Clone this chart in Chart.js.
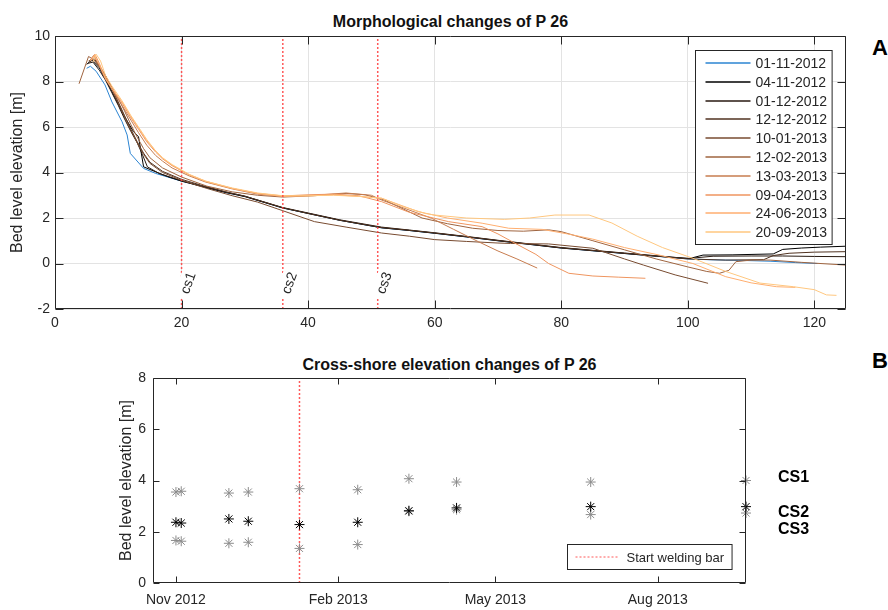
<!DOCTYPE html>
<html>
<head>
<meta charset="utf-8">
<script src="https://cdn.jsdelivr.net/npm/chart.js@4.4.1/dist/chart.umd.min.js"></script>
<style>
  body { margin: 0; background: #fff; }
  #wrap { position: relative; width: 888px; height: 610px; overflow: hidden; font-family: 'Liberation Sans', Arial, sans-serif; }
  canvas { position: absolute; left: 0; }
  .title { position: absolute; font-weight: bold; font-size: 16px; line-height: 16px; color: #111; text-align: center; white-space: nowrap; }
  .panel { position: absolute; left: 872px; font-weight: bold; font-size: 22px; line-height: 22px; color: #000; }
  .cs { position: absolute; left: 778px; font-family: 'Liberation Sans Narrow', 'Liberation Sans', sans-serif; font-weight: bold; font-size: 16px; line-height: 16px; color: #000; }
</style>
</head>
<body>
<div id="wrap">
  <div class="title" style="left:55px;width:791px;top:14px">Morphological changes of P 26</div>
  <div class="panel" style="top:37px">A</div>
  <canvas id="profile" width="888" height="330" style="top:0"></canvas>

  <div class="title" style="left:153px;width:593px;top:357px">Cross-shore elevation changes of P 26</div>
  <div class="panel" style="top:350px">B</div>
  <canvas id="points" width="888" height="280" style="top:330px"></canvas>
  <div class="cs" style="top:469px">CS1</div>
  <div class="cs" style="top:504px">CS2</div>
  <div class="cs" style="top:521px">CS3</div>
</div>
<script>
// survey dates (legend labels of panel A, x positions of panel B)
const surveyDates = ['01-11-2012', '04-11-2012', '01-12-2012', '12-12-2012', '10-01-2013',
                     '12-02-2013', '13-03-2013', '09-04-2013', '24-06-2013', '20-09-2013'];

// ---- panel A: bed profiles (distance [m], elevation [m]) ----
const p01x = [5.0, 5.6, 6.5, 7.9, 9.0, 10.6, 11.4, 11.9, 14.0, 15.9, 20, 23, 27, 30, 36, 40, 45, 51.6, 56, 60, 65, 70, 75, 80, 85, 90, 95, 100, 104, 108, 113, 117, 120.5];
const p01y = [8.58, 8.67, 8.45, 7.85, 7.1, 6.23, 5.65, 4.84, 4.18, 3.96, 3.62, 3.42, 3.12, 2.95, 2.44, 2.2, 1.9, 1.57, 1.45, 1.33, 1.17, 1.0, 0.84, 0.68, 0.56, 0.44, 0.32, 0.2, 0.16, 0.14, 0.1, 0.04, 0.0];
const p02x = [5.0, 5.8, 7.0, 8.0, 9.0, 10.0, 11.0, 12.4, 13.2, 14.0, 15.9, 18, 20, 23, 27, 30, 36, 40, 45, 51.6, 56, 60, 65, 70, 75, 80, 85, 90, 95, 100.3, 102.4, 107, 113.5, 115, 118, 121, 125];
const p02y = [8.75, 8.95, 8.6, 8.1, 7.55, 7.0, 6.45, 5.8, 5.57, 4.25, 4.03, 3.8, 3.62, 3.4, 3.12, 2.94, 2.44, 2.2, 1.9, 1.57, 1.45, 1.33, 1.17, 1.0, 0.84, 0.68, 0.56, 0.44, 0.32, 0.22, 0.37, 0.38, 0.42, 0.62, 0.68, 0.72, 0.76];
const p03x = [5.2, 6.0, 7.0, 8.0, 9.0, 10.0, 11.0, 12.0, 13.0, 13.8, 14.6, 16.5, 20, 23, 27, 30, 36, 40, 45, 51.6, 56, 60, 65, 70, 75, 80, 85, 90, 95, 100, 104, 110, 115, 120, 125];
const p03y = [8.8, 8.85, 8.5, 8.05, 7.5, 6.95, 6.35, 5.8, 5.3, 4.8, 4.25, 3.95, 3.64, 3.42, 3.14, 2.96, 2.46, 2.22, 1.92, 1.6, 1.47, 1.35, 1.19, 1.02, 0.86, 0.7, 0.58, 0.46, 0.34, 0.22, 0.32, 0.33, 0.33, 0.31, 0.3];
const p04x = [5.5, 6.2, 7.0, 8.0, 9.0, 10.0, 11.0, 12.0, 13.0, 14.0, 15.0, 17.0, 20, 23, 27, 30, 36, 40, 45, 51.6, 56, 60, 65, 70, 75, 80, 85, 90, 95, 100, 106, 112, 113.5, 116, 120, 125];
const p04y = [8.85, 9.0, 8.7, 8.25, 7.7, 7.1, 6.5, 5.9, 5.35, 4.85, 4.45, 4.05, 3.7, 3.45, 3.15, 2.96, 2.45, 2.2, 1.9, 1.58, 1.46, 1.34, 1.18, 1.01, 0.85, 0.69, 0.57, 0.45, 0.33, 0.2, 0.15, 0.17, 0.35, 0.45, 0.5, 0.52];
const p05x = [5.3, 6.0, 7.0, 8.0, 9.0, 10.0, 11.0, 12.0, 13.0, 14.0, 15.0, 17.0, 20, 24, 28, 32, 36, 41, 46, 51.6, 56, 60, 65, 70, 72, 78, 85, 90, 93, 98, 103.2];
const p05y = [8.9, 9.0, 8.65, 8.2, 7.65, 7.05, 6.45, 5.85, 5.3, 4.8, 4.4, 4.0, 3.66, 3.3, 2.98, 2.7, 2.32, 1.84, 1.6, 1.34, 1.2, 1.05, 0.97, 0.9, 0.88, 0.86, 0.67, 0.2, -0.07, -0.5, -0.87];
const p06x = [3.8, 5.3, 6.2, 7.0, 8.0, 9.0, 10.0, 11.0, 12.0, 13.0, 14.0, 15.0, 17.0, 20, 24, 28, 32, 36, 41, 46, 49, 52, 55, 58, 62, 66, 70, 74, 78, 80, 85, 90, 95, 100, 103, 105, 106.5, 107.6, 110, 113, 118, 125];
const p06y = [7.9, 9.1, 8.95, 8.65, 8.25, 7.75, 7.25, 6.7, 6.1, 5.55, 5.05, 4.65, 4.2, 3.8, 3.4, 3.15, 3.0, 2.92, 2.98, 3.08, 3.02, 2.8, 2.4, 2.0, 1.75, 1.55, 1.45, 1.42, 1.48, 1.4, 1.0, 0.6, 0.2, -0.15, -0.35, -0.43, -0.3, 0.08, 0.15, 0.15, 0.05, -0.07];
const p07x = [5.5, 6.1, 7.0, 7.9, 9.0, 10.6, 12.0, 13.2, 14.5, 15.9, 17.0, 18.5, 21.2, 23.8, 28, 32, 36, 41, 46, 50, 51.6, 55, 59.5, 63, 66.9, 70, 73, 76.2];
const p07y = [8.9, 9.15, 8.7, 8.15, 7.65, 6.95, 6.3, 5.75, 5.2, 4.75, 4.5, 4.2, 3.85, 3.58, 3.28, 3.05, 2.95, 3.0, 3.1, 3.0, 2.79, 2.45, 1.99, 1.5, 0.96, 0.55, 0.2, -0.2];
const p08x = [5.8, 6.3, 7.0, 7.9, 9.0, 10.6, 12.0, 13.2, 14.5, 15.9, 17.0, 18.5, 21.2, 23.8, 28, 32, 36, 40, 44, 48, 51.6, 56, 62.2, 67.5, 70, 72.7, 76, 78, 81.2, 85, 89, 93.3];
const p08y = [8.95, 9.2, 8.8, 8.2, 7.7, 7.05, 6.4, 5.9, 5.35, 4.9, 4.6, 4.3, 3.9, 3.6, 3.3, 3.08, 2.97, 3.02, 3.05, 2.98, 2.72, 2.25, 1.84, 1.62, 1.3, 0.89, 0.4, 0.0, -0.43, -0.55, -0.6, -0.65];
const p09x = [5.6, 6.2, 7.0, 8.0, 9.0, 10.6, 12.0, 13.2, 14.5, 15.9, 17.0, 18.5, 21.2, 23.8, 28, 32, 36, 40, 44, 48, 51.6, 57.4, 62, 67.5, 71.7, 77, 81, 85, 90, 95.5, 100.8, 106, 110, 114, 117];
const p09y = [8.9, 9.15, 8.75, 8.1, 7.7, 7.1, 6.45, 5.95, 5.4, 4.95, 4.62, 4.32, 3.9, 3.62, 3.3, 3.08, 2.95, 2.97, 3.02, 2.95, 2.87, 2.28, 2.0, 1.77, 1.55, 1.5, 1.3, 1.07, 0.7, 0.37, 0.0, -0.58, -0.85, -1.02, -1.05];
const p10x = [6.0, 6.5, 7.2, 8.0, 9.0, 10.6, 12.0, 13.2, 14.5, 15.9, 17.0, 18.5, 21.2, 23.8, 28, 32, 36, 40, 44, 48, 51.6, 55, 58.5, 60, 65, 71, 75, 79, 84.4, 88, 92, 96, 100.8, 106, 111.4, 116.7, 120, 121.9, 123.5];
const p10y = [8.85, 9.2, 8.9, 8.25, 7.8, 7.15, 6.5, 6.0, 5.45, 4.95, 4.65, 4.35, 3.92, 3.62, 3.32, 3.1, 2.98, 2.98, 3.0, 2.95, 2.87, 2.5, 2.2, 2.13, 2.0, 1.94, 2.0, 2.13, 2.13, 1.78, 1.2, 0.7, 0.23, -0.35, -0.86, -1.02, -1.15, -1.38, -1.4];

const profileX = [p01x, p02x, p03x, p04x, p05x, p06x, p07x, p08x, p09x, p10x];
const profileY = [p01y, p02y, p03y, p04y, p05y, p06y, p07y, p08y, p09y, p10y];
// blue first survey, then copper map
const profileColors = ['#2b84d2', '#000000', '#281910', '#503220', '#784b30', '#9f643f', '#c77c4f', '#ef955f', '#ffae6f', '#ffc77f'];

const csPositions = [20, 36, 51];
const csNames = ['cs1', 'cs2', 'cs3'];
const topXTicks = [0, 20, 40, 60, 80, 100, 120];
const topYTicks = [-2, 0, 2, 4, 6, 8, 10];

// ---- panel B: elevation at the three cross-shore points ----
const cs1Values = [3.55, 3.58, 3.51, 3.55, 3.68, 3.64, 4.07, 3.94, 3.94, 4.0];
const cs2Values = [2.37, 2.34, 2.5, 2.41, 2.28, 2.37, 2.82, 2.93, 2.98, 2.98];
const cs3Values = [1.66, 1.63, 1.55, 1.59, 1.35, 1.5, 2.8, 2.86, 2.67, 2.73];
const weldingDate = '10-01-2013';
const monthTickDates = ['01-11-2012', '01-02-2013', '01-05-2013', '01-08-2013'];
const monthTickLabels = ['Nov 2012', 'Feb 2013', 'May 2013', 'Aug 2013'];
const bottomYTicks = [0, 2, 4, 6, 8];
const bottomRange = ['19-10-2012', '20-09-2013'];

function dayOf(s) {
    const [d, m, y] = s.split('-').map(Number);
    return (Date.UTC(y, m - 1, d) - Date.UTC(2012, 10, 1)) / 86400000;
}

const FONT = "'Liberation Sans', Arial, sans-serif";
const tickFont = { family: FONT, size: 14 };
const axisColor = '#262626';
const guideColor = 'rgba(255, 60, 60, 0.85)';

// box around the axes with inward ticks (matlab style)
const frame = {
    id: 'frame',
    afterDatasetsDraw(chart, args, o) {
        const { ctx, chartArea: a } = chart;
        const xs = chart.scales.x, ys = chart.scales.y;
        const L = Math.round(a.left) + 0.5, R = Math.round(a.right) - 0.5;
        const T = Math.round(a.top) + 0.5, B = Math.round(a.bottom) - 0.5;
        ctx.save();
        ctx.strokeStyle = axisColor;
        ctx.lineWidth = 1;
        ctx.beginPath();
        ctx.rect(L, T, R - L, B - T);
        xs.ticks.forEach(t => {
            const p = Math.round(xs.getPixelForValue(t.value)) + 0.5;
            ctx.moveTo(p, B); ctx.lineTo(p, B - o.len);
            ctx.moveTo(p, T); ctx.lineTo(p, T + o.len);
        });
        ys.ticks.forEach(t => {
            const p = Math.round(ys.getPixelForValue(t.value)) + 0.5;
            ctx.moveTo(L, p); ctx.lineTo(L + o.len, p);
            ctx.moveTo(R, p); ctx.lineTo(R - o.len, p);
        });
        ctx.stroke();
        ctx.restore();
    }
};

// legend box inside the axes
const boxLegend = {
    id: 'boxLegend',
    afterDatasetsDraw(chart, args, o) {
        const { ctx, chartArea: a } = chart;
        const items = chart.data.datasets.filter(d => d.inLegend);
        ctx.save();
        ctx.font = o.fontSize + 'px ' + FONT;
        const textW = Math.max(...items.map(d => ctx.measureText(d.label).width));
        const w = o.padL + o.sample + o.gap + textW + o.padR;
        const h = items.length * o.rowH + o.padV * 2;
        const left = Math.round(a.right - o.margin - w) + 0.5;
        const top = Math.round(o.corner === 'top' ? a.top + o.margin : a.bottom - o.margin - h) + 0.5;
        ctx.fillStyle = '#fff';
        ctx.fillRect(left, top, w, h);
        ctx.strokeStyle = axisColor;
        ctx.lineWidth = 1;
        ctx.strokeRect(left, top, w, h);
        items.forEach((d, i) => {
            const cy = Math.round(top + o.padV + o.rowH * (i + 0.5));
            ctx.beginPath();
            ctx.setLineDash(d.borderDash || []);
            ctx.strokeStyle = d.borderColor;
            ctx.lineWidth = o.lineWidth;
            ctx.moveTo(left + o.padL, cy);
            ctx.lineTo(left + o.padL + o.sample, cy);
            ctx.stroke();
            ctx.setLineDash([]);
            ctx.fillStyle = axisColor;
            ctx.textBaseline = 'middle';
            ctx.fillText(d.label, left + o.padL + o.sample + o.gap, cy + 1);
        });
        ctx.restore();
    }
};

// rotated cs labels with a white background on the red guide lines
const csMarks = {
    id: 'csMarks',
    afterDatasetsDraw(chart) {
        const { ctx } = chart;
        const xs = chart.scales.x, ys = chart.scales.y;
        ctx.save();
        ctx.font = '14px ' + FONT;
        csPositions.forEach((v, i) => {
            const w = ctx.measureText(csNames[i]).width + 12;
            ctx.save();
            ctx.translate(xs.getPixelForValue(v) + 6, ys.getPixelForValue(-0.85));
            ctx.rotate(-70 * Math.PI / 180);
            ctx.fillStyle = '#fff';
            ctx.fillRect(-w / 2, -9, w, 18);
            ctx.fillStyle = axisColor;
            ctx.textAlign = 'center';
            ctx.textBaseline = 'middle';
            ctx.fillText(csNames[i], 0, 1);
            ctx.restore();
        });
        ctx.restore();
    }
};

// ---------- panel A ----------
const profileSets = surveyDates.map((d, i) => ({
    label: d,
    data: profileX[i].map((x, j) => ({ x: x, y: profileY[i][j] })),
    borderColor: profileColors[i],
    borderWidth: 1,
    pointRadius: 0,
    tension: 0,
    order: surveyDates.length - i + 1,
    inLegend: true
}));
const csLineSets = csPositions.map(v => ({
    label: 'cs',
    data: [{ x: v, y: -2 }, { x: v, y: 10 }],
    borderColor: guideColor,
    borderWidth: 1.5,
    borderDash: [2, 2],
    pointRadius: 0,
    order: 0
}));

new Chart(document.getElementById('profile'), {
    type: 'line',
    data: { datasets: profileSets.concat(csLineSets) },
    options: {
        responsive: false,
        animation: false,
        devicePixelRatio: 1,
        layout: { padding: { left: 6, top: 36, right: 42, bottom: 0 } },
        plugins: {
            legend: { display: false },
            tooltip: { enabled: false },
            frame: { len: 8 },
            boxLegend: { corner: 'top', margin: 14, padL: 10, sample: 45, gap: 5, padR: 5, rowH: 18.8, padV: 3, fontSize: 14, lineWidth: 1.5 }
        },
        scales: {
            x: {
                type: 'linear', min: 0, max: 125,
                afterBuildTicks: s => { s.ticks = topXTicks.map(v => ({ value: v })); },
                afterFit: s => { s.height = 21; },
                grid: { color: '#e3e3e3', drawTicks: false },
                border: { display: false },
                ticks: { color: axisColor, font: tickFont, padding: 6, maxRotation: 0 }
            },
            y: {
                min: -2, max: 10,
                afterBuildTicks: s => { s.ticks = topYTicks.map(v => ({ value: v })); },
                afterFit: s => { s.width = 49; },
                grid: { color: '#e3e3e3', drawTicks: false },
                border: { display: false },
                ticks: { color: axisColor, font: tickFont, padding: 5 },
                title: { display: true, text: 'Bed level elevation [m]', color: axisColor, font: { family: FONT, size: 16 }, padding: { top: 2, bottom: 0 } }
            }
        }
    },
    plugins: [csMarks, frame, boxLegend]
});

// ---------- panel B ----------
const surveyDays = surveyDates.map(dayOf);
function starSet(label, values, color, order) {
    return {
        label: label,
        data: surveyDays.map((d, i) => ({ x: d, y: values[i] })),
        pointStyle: 'star',
        pointRadius: 5,
        borderColor: color,
        backgroundColor: color,
        borderWidth: 1,
        clip: false,
        order: order
    };
}

new Chart(document.getElementById('points'), {
    type: 'scatter',
    data: {
        datasets: [
            starSet('CS1', cs1Values, '#8c8c8c', 2),
            starSet('CS3', cs3Values, '#8c8c8c', 2),
            starSet('CS2', cs2Values, '#000000', 1),
            {
                label: 'Start welding bar',
                type: 'line',
                data: [{ x: dayOf(weldingDate), y: 0 }, { x: dayOf(weldingDate), y: 8 }],
                borderColor: guideColor,
                borderWidth: 1.5,
                borderDash: [2, 2],
                pointRadius: 0,
                showLine: true,
                order: 3,
                inLegend: true
            }
        ]
    },
    options: {
        responsive: false,
        animation: false,
        devicePixelRatio: 1,
        layout: { padding: { left: 115, top: 48, right: 142, bottom: 0 } },
        plugins: {
            legend: { display: false },
            tooltip: { enabled: false },
            frame: { len: 6 },
            boxLegend: { corner: 'bottom', margin: 14, padL: 8, sample: 43, gap: 8, padR: 8, rowH: 19, padV: 3, fontSize: 13, lineWidth: 1 }
        },
        scales: {
            x: {
                type: 'linear', min: dayOf(bottomRange[0]), max: dayOf(bottomRange[1]),
                afterBuildTicks: s => { s.ticks = monthTickDates.map(d => ({ value: dayOf(d) })); },
                afterFit: s => { s.height = 27; },
                grid: { display: false, drawTicks: false },
                border: { display: false },
                ticks: {
                    color: axisColor, font: tickFont, padding: 9, maxRotation: 0,
                    callback: (v, i) => monthTickLabels[i]
                }
            },
            y: {
                min: 0, max: 8,
                afterBuildTicks: s => { s.ticks = bottomYTicks.map(v => ({ value: v })); },
                afterFit: s => { s.width = 38; },
                grid: { display: false, drawTicks: false },
                border: { display: false },
                ticks: { color: axisColor, font: tickFont, padding: 7 },
                title: { display: true, text: 'Bed level elevation [m]', color: axisColor, font: { family: FONT, size: 16 }, padding: { top: 2, bottom: 0 } }
            }
        }
    },
    plugins: [frame, boxLegend]
});
</script>
</body>
</html>
